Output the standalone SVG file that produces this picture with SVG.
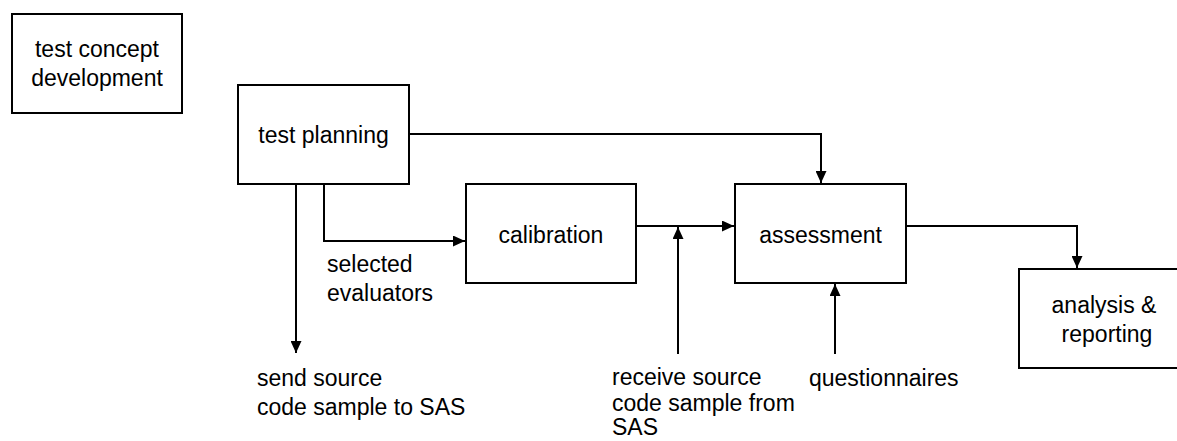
<svg xmlns="http://www.w3.org/2000/svg" width="1177" height="441" viewBox="0 0 1177 441">
  <style>
    .box { fill: #ffffff; stroke: #000000; stroke-width: 2; }
    .lbl { font-family: "Liberation Sans", Arial, sans-serif; font-size: 23px; fill: #000000; }
    .mid { text-anchor: middle; }
    .conn { fill: none; stroke: #000000; stroke-width: 2; }
  </style>
  <defs>
    <marker id="arrow" markerUnits="userSpaceOnUse" markerWidth="12" markerHeight="11" refX="12" refY="5.5" orient="auto">
      <path d="M0,0 L12,5.5 L0,11 Z" fill="#000000"/>
    </marker>
  </defs>
  <rect width="1177" height="441" fill="#ffffff"/>

  <g id="connectors">
    <path class="conn" d="M409,134 H821 V183" marker-end="url(#arrow)"/>
    <path class="conn" d="M296,184 V353" marker-end="url(#arrow)"/>
    <path class="conn" d="M324,184 V241 H465" marker-end="url(#arrow)"/>
    <path class="conn" d="M636,226 H734" marker-end="url(#arrow)"/>
    <path class="conn" d="M678,354 V227" marker-end="url(#arrow)"/>
    <path class="conn" d="M835,354 V284" marker-end="url(#arrow)"/>
    <path class="conn" d="M906,226 H1077 V268" marker-end="url(#arrow)"/>
  </g>

  <g id="node-concept">
    <rect class="box" x="12" y="14" width="170" height="99"/>
    <text class="lbl mid" x="97" y="57">test concept</text>
    <text class="lbl mid" x="97" y="86">development</text>
  </g>
  <g id="node-planning">
    <rect class="box" x="238" y="85" width="171" height="99"/>
    <text class="lbl mid" x="323.5" y="143">test planning</text>
  </g>
  <g id="node-calibration">
    <rect class="box" x="466" y="184" width="170" height="99"/>
    <text class="lbl mid" x="551" y="243">calibration</text>
  </g>
  <g id="node-assessment">
    <rect class="box" x="735" y="184" width="171" height="99"/>
    <text class="lbl mid" x="820.5" y="243">assessment</text>
  </g>
  <g id="node-analysis">
    <rect class="box" x="1019" y="269" width="171" height="99"/>
    <text class="lbl mid" x="1104" y="313">analysis &amp;</text>
    <text class="lbl mid" x="1107" y="342">reporting</text>
  </g>

  <g id="labels">
    <text class="lbl" x="327" y="272">selected</text>
    <text class="lbl" x="327" y="301">evaluators</text>
    <text class="lbl" x="257" y="386">send source</text>
    <text class="lbl" x="257" y="415">code sample to SAS</text>
    <text class="lbl" x="612" y="385">receive source</text>
    <text class="lbl" x="612" y="411">code sample from</text>
    <text class="lbl" x="612" y="435">SAS</text>
    <text class="lbl" x="809" y="386">questionnaires</text>
  </g>
</svg>
